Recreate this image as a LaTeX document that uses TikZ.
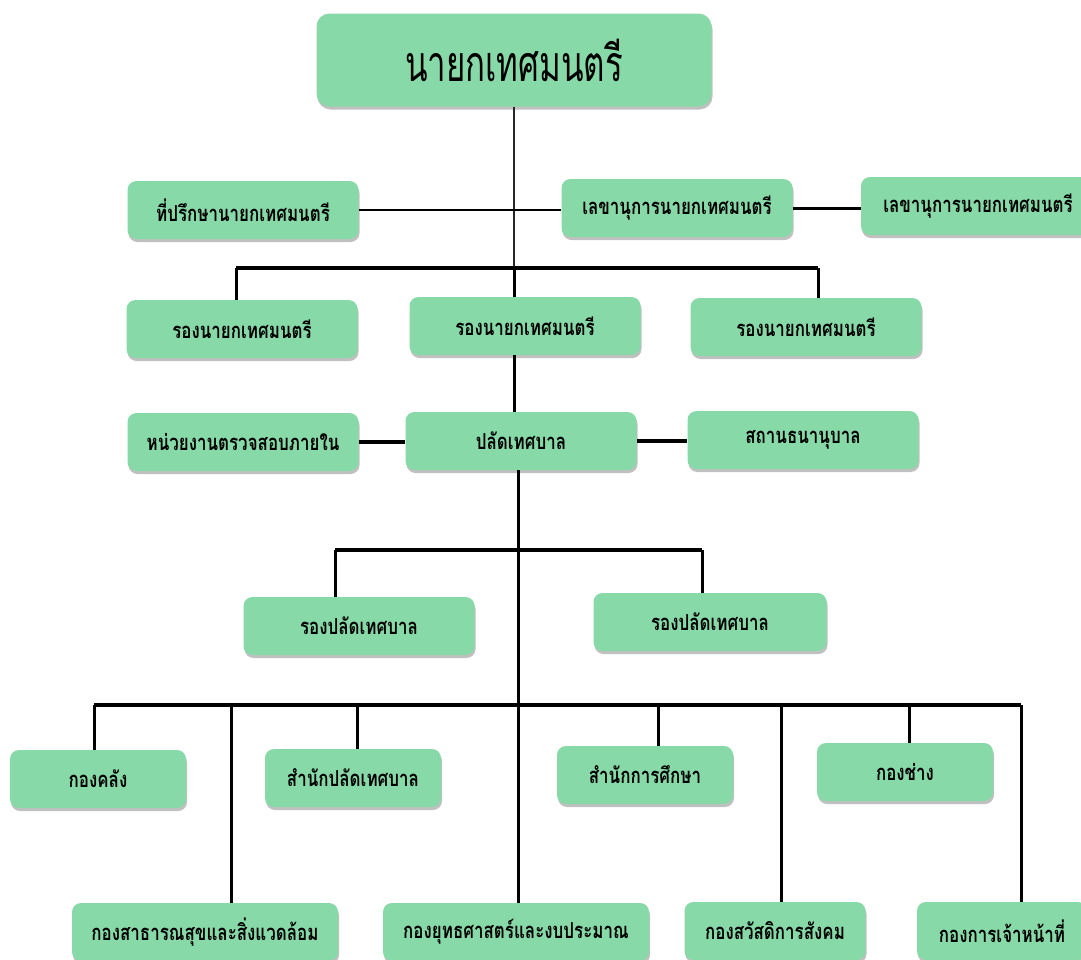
\documentclass[tikz,border=0pt]{standalone}
\usepackage{fontspec}
\usepackage{tikz}
\usetikzlibrary{shadows}
\newfontfamily\thaifont[Script=Thai,FakeStretch=0.77]{Loma}
\newfontfamily\thaihead[Script=Thai,FakeStretch=0.66]{Loma}
\definecolor{boxgreen}{HTML}{88D9A8}

\begin{document}
\begin{tikzpicture}[x=1pt,y=-1pt,
  every node/.style={font=\thaifont\bfseries\fontsize{22}{26}\selectfont},
  unit/.style={fill=boxgreen, rounded corners=9pt, inner sep=0pt,
               minimum width=231pt, minimum height=58pt,
               drop shadow={shadow xshift=1pt, shadow yshift=-3pt, fill=black!45, opacity=0.55}},
  small/.style={unit, minimum width=176pt},
  wide/.style={unit, minimum width=266pt},
  head/.style={unit, minimum width=395pt, minimum height=93pt, rounded corners=13pt,
               font=\thaihead\fontsize{50}{56}\selectfont},
  link/.style={line width=3pt, draw=black},
  thinlink/.style={line width=2pt, draw=black!85},
  bar/.style={line width=3.6pt, draw=black}
]
\useasboundingbox (0,0) rectangle (1081,959);

%% top
\node[head] (mayor) at (514,60) {นายกเทศมนตรี};

%% advisers and secretaries
\node[unit]  (adv)  at (243,210)   {ที่ปรึกษานายกเทศมนตรี};
\node[unit]  (sec)  at (677,208)   {เลขานุการนายกเทศมนตรี};
\node[unit, minimum width=234pt] (secb) at (978,206) {เลขานุการนายกเทศมนตรี};

%% deputies
\node[unit] (depL) at (242,329) {รองนายกเทศมนตรี};
\node[unit] (depM) at (525,326) {รองนายกเทศมนตรี};
\node[unit] (depR) at (806,327) {รองนายกเทศมนตรี};

%% clerk row
\node[unit] (audit) at (243,442) {หน่วยงานตรวจสอบภายใน};
\node[unit] (pal)   at (521,441) {ปลัดเทศบาล};
\node[unit] (pawn)  at (803,440) {สถานธนานุบาล};

%% deputy clerks
\node[unit] (subL) at (359,626) {รองปลัดเทศบาล};
\node[unit, minimum width=233pt] (subR) at (710,622) {รองปลัดเทศบาล};

%% divisions
\node[small] (fin)    at (98,779)  {กองคลัง};
\node[small] (office) at (353,778) {สำนักปลัดเทศบาล};
\node[small] (edu)    at (645,775) {สำนักการศึกษา};
\node[small] (eng)    at (905,772) {กองช่าง};
\node[wide]  (health) at (205,932) {กองสาธารณสุขและสิ่งแวดล้อม};
\node[wide]  (plan)   at (516,932) {กองยุทธศาสตร์และงบประมาณ};
\node[small, minimum width=181pt] (welfare) at (775,931) {กองสวัสดิการสังคม};
\node[small, minimum width=170pt] (hr)      at (1002,931) {กองการเจ้าหน้าที่};

%% junctions
\coordinate (jdep) at (514,268);
\coordinate (jsub) at (518,550);
\coordinate (jdiv) at (518,705);

%% upper trunk
\draw[thinlink] (mayor.south -| jdep) -- (jdep);
\draw[link, line width=2.4pt] (adv.east) -- (adv.east -| sec.west);
\draw[link] (sec.east) -- (sec.east -| secb.west);

%% deputies bar
\foreach \xx/\nm in {236/depL,818/depR} {
  \coordinate (d\nm) at (\xx,268);
  \draw[link] (d\nm) -- (d\nm |- \nm.north);
}
\draw[bar] (ddepL) -- (ddepR);
\draw[link] (jdep) -- (jdep |- depM.north);
\draw[link] (jdep |- depM.south) -- (jdep |- pal.north);
\draw[bar] (audit.east) -- (audit.east -| pal.west);
\draw[bar] (pal.east) -- (pal.east -| pawn.west);

%% lower trunk
\draw[link] (jsub |- pal.south) -- (jsub |- plan.north);
\foreach \xx/\nm in {335/subL,702/subR} {
  \coordinate (d\nm) at (\xx,550);
  \draw[link] (d\nm) -- (d\nm |- \nm.north);
}
\draw[bar] (dsubL) -- (dsubR);

\foreach \xx/\nm in {94/fin,231/health,357/office,658/edu,781/welfare,909/eng,1021/hr} {
  \coordinate (d\nm) at (\xx,705);
  \draw[link] (d\nm) -- (d\nm |- \nm.north);
}
\draw[bar] (dfin) -- (dhr);
\end{tikzpicture}
\end{document}
